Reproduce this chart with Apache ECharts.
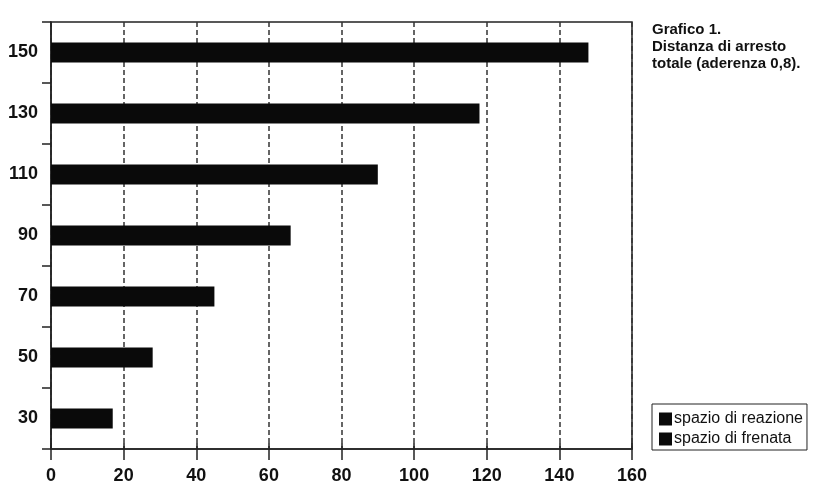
<!DOCTYPE html>
<html>
<head>
<meta charset="utf-8">
<script src="https://cdn.jsdelivr.net/npm/echarts@6/dist/echarts.min.js"></script>
<style>
html,body{margin:0;padding:0;background:#fff;}
#c{width:817px;height:496px;}
</style>
</head>
<body>
<div id="c"></div>
<script>
// velocità (km/h) — bottom to top
var categories = ['30', '50', '70', '90', '110', '130', '150'];
// distanza di arresto totale (m)
var totalDistance = [17, 28, 45, 66, 90, 118, 148];
var xTicks = [0, 20, 40, 60, 80, 100, 120, 140, 160];
var legendNames = ['spazio di reazione', 'spazio di frenata'];
var titleLines = ['Grafico 1.', 'Distanza di arresto', 'totale (aderenza 0,8).'];

var chart = echarts.init(document.getElementById('c'), null, {renderer: 'canvas'});
var font = 'Liberation Sans, Arial, Helvetica, sans-serif';
chart.setOption({
  backgroundColor: '#ffffff',
  animation: false,
  title: {
    text: titleLines.join('\n'),
    left: 647,
    top: 16,
    textStyle: {fontFamily: font, fontSize: 15, fontWeight: 'bold', color: '#111', lineHeight: 17}
  },
  legend: {
    data: legendNames,
    orient: 'vertical',
    left: 652,
    top: 404,
    padding: [7, 4, 3, 7],
    itemGap: 4,
    itemWidth: 13,
    itemHeight: 13,
    icon: 'rect',
    borderColor: '#222',
    borderWidth: 1,
    selectedMode: false,
    textStyle: {fontFamily: font, fontSize: 16, color: '#111', padding: [0, 0, 0, -3]}
  },
  grid: {left: 51, right: 185, top: 22, bottom: 47, show: true, borderColor: '#222', borderWidth: 1.5, backgroundColor: 'transparent'},
  xAxis: [
    {
      type: 'value',
      min: 0, max: 160, interval: 20,
      axisLine: {show: true, lineStyle: {color: '#222', width: 1.5}},
      axisTick: {show: true, length: 11, lineStyle: {color: '#222', width: 1.5}},
      axisLabel: {
        margin: 18,
        fontFamily: font, fontSize: 18, fontWeight: 'bold', color: '#111',
        formatter: function (v) { return xTicks.indexOf(v) >= 0 ? String(v) : ''; }
      },
      splitLine: {show: true, lineStyle: {color: '#333', width: 1.5, type: [5, 3]}}
    },
    {
      type: 'value',
      position: 'bottom',
      min: 0, max: 160, interval: 20,
      axisLine: {show: false},
      axisTick: {show: true, inside: true, length: 6, lineStyle: {color: '#222', width: 1.5}},
      axisLabel: {show: false},
      splitLine: {show: false}
    }
  ],
  yAxis: {
    type: 'category',
    data: categories,
    axisLine: {show: true, lineStyle: {color: '#222', width: 1.5}},
    axisTick: {show: true, length: 9, alignWithLabel: false, lineStyle: {color: '#222', width: 1.5}},
    axisLabel: {margin: 13, fontFamily: font, fontSize: 18, fontWeight: 'bold', color: '#111'},
    splitLine: {show: false}
  },
  series: [
    {
      name: legendNames[0],
      type: 'bar',
      stack: 'tot',
      data: totalDistance,
      barWidth: 20,
      itemStyle: {color: '#0a0a0a'}
    },
    {
      name: legendNames[1],
      type: 'bar',
      stack: 'tot',
      data: [],
      barWidth: 20,
      itemStyle: {color: '#0a0a0a'}
    }
  ]
});
</script>
</body>
</html>
